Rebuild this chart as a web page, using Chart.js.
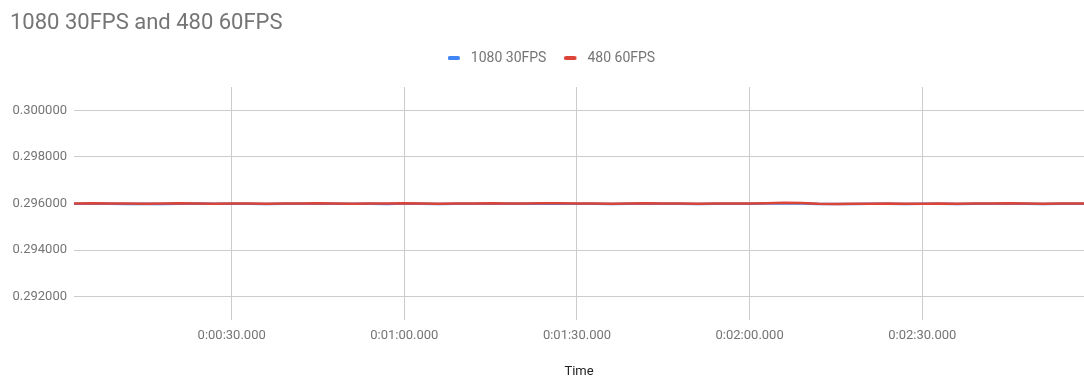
<!DOCTYPE html>
<html>
<head>
<meta charset="utf-8">
<script src="https://cdn.jsdelivr.net/npm/chart.js@4/dist/chart.umd.min.js"></script>
<style>
  html, body { margin: 0; padding: 0; background: #ffffff; }
  #wrap { width: 1084px; height: 381px; }
</style>
</head>
<body>
<div id="wrap"><canvas id="chart" width="1084" height="381"></canvas></div>
<script>
// Elapsed time of each sample, in seconds
const timeSeconds = [
  0, 3, 6, 9, 12, 15, 18, 21, 24, 27,
  30, 33, 36, 39, 42, 45, 48, 51, 54, 57,
  60, 63, 66, 69, 72, 75, 78, 81, 84, 87,
  90, 93, 96, 99, 102, 105, 108, 111, 114, 117,
  120, 123, 126, 129, 132, 135, 138, 141, 144, 147,
  150, 153, 156, 159, 162, 165, 168, 171, 174, 177,
  180
];

const series1080 = [
  0.29599, 0.29599, 0.29600, 0.29599, 0.29598, 0.29599, 0.29598, 0.29599, 0.29600, 0.29599,
  0.29599, 0.29599, 0.29598, 0.29599, 0.29599, 0.29600, 0.29599, 0.29599, 0.29599, 0.29598,
  0.29600, 0.29599, 0.29598, 0.29599, 0.29599, 0.29600, 0.29599, 0.29599, 0.29600, 0.29599,
  0.29599, 0.29599, 0.29598, 0.29599, 0.29600, 0.29599, 0.29599, 0.29598, 0.29599, 0.29599,
  0.29599, 0.29600, 0.29601, 0.29600, 0.29598, 0.29598, 0.29598, 0.29599, 0.29599, 0.29598,
  0.29599, 0.29599, 0.29598, 0.29599, 0.29599, 0.29599, 0.29599, 0.29598, 0.29599, 0.29599,
  0.29599
];

const series480 = [
  0.29600, 0.29600, 0.29601, 0.29600, 0.29600, 0.29599, 0.29600, 0.29601, 0.29600, 0.29599,
  0.29600, 0.29600, 0.29599, 0.29600, 0.29600, 0.29601, 0.29600, 0.29599, 0.29600, 0.29600,
  0.29601, 0.29600, 0.29599, 0.29600, 0.29600, 0.29601, 0.29600, 0.29600, 0.29601, 0.29601,
  0.29600, 0.29600, 0.29599, 0.29600, 0.29601, 0.29600, 0.29600, 0.29599, 0.29600, 0.29600,
  0.29600, 0.29601, 0.29603, 0.29602, 0.29599, 0.29598, 0.29599, 0.29599, 0.29600, 0.29599,
  0.29599, 0.29600, 0.29599, 0.29600, 0.29600, 0.29601, 0.29600, 0.29599, 0.29600, 0.29600,
  0.29600
];

const seriesNames = ['1080 30FPS', '480 60FPS'];
const seriesColors = ['#4285f4', '#db4437'];

const xTickValues = [30, 60, 90, 120, 150];
const xTickLabels = ['0:00:30.000', '0:01:00.000', '0:01:30.000', '0:02:00.000', '0:02:30.000'];
const yTickValues = [0.292, 0.294, 0.296, 0.298, 0.300];
const yTickLabels = ['0.292000', '0.294000', '0.296000', '0.298000', '0.300000'];

const TEXT_GREY = '#757575';
const GRID_GREY = '#cccccc';

// Small rounded bar used as the legend swatch; the canvas is wider than the
// bar so the label sits a little further from it.
function makeSwatch(color) {
  const c = document.createElement('canvas');
  c.width = 16; c.height = 4;
  const g = c.getContext('2d');
  g.fillStyle = color;
  g.beginPath();
  g.roundRect(0, 0, 12, 4, 1.5);
  g.fill();
  return c;
}

function toPoints(values) {
  return timeSeconds.map((t, i) => ({ x: t, y: values[i] }));
}

// Extra room between the legend and the plotting area, and a slight
// nudge of the legend row to the right.
const legendGap = {
  id: 'legendGap',
  beforeInit(chart) {
    const legend = chart.legend;
    if (!legend) return;
    const fit = legend.fit;
    legend.fit = function () {
      fit.call(this);
      this.height += 12;
    };
  },
  afterLayout(chart) {
    if (chart.legend) chart.legend.left += 9;
  }
};

Chart.defaults.font.family = 'Roboto, "Noto Sans", Arial, sans-serif';
Chart.defaults.color = TEXT_GREY;

new Chart(document.getElementById('chart'), {
  type: 'line',
  data: {
    datasets: [
      {
        label: seriesNames[0],
        data: toPoints(series1080),
        borderColor: seriesColors[0],
        backgroundColor: seriesColors[0],
        borderWidth: 2.5,
        pointRadius: 0,
        pointStyle: makeSwatch(seriesColors[0]),
        tension: 0,
        order: 1
      },
      {
        label: seriesNames[1],
        data: toPoints(series480),
        borderColor: seriesColors[1],
        backgroundColor: seriesColors[1],
        borderWidth: 2.5,
        pointRadius: 0,
        pointStyle: makeSwatch(seriesColors[1]),
        tension: 0,
        order: 0
      }
    ]
  },
  options: {
    responsive: false,
    animation: false,
    layout: { padding: { left: 10, right: 0, top: 0, bottom: 0 } },
    plugins: {
      title: {
        display: true,
        text: '1080 30FPS and 480 60FPS',
        align: 'start',
        color: TEXT_GREY,
        font: { size: 22, weight: 'normal', lineHeight: '20px' },
        padding: { top: 13, bottom: 0 }
      },
      legend: {
        display: true,
        position: 'top',
        align: 'center',
        labels: {
          usePointStyle: true,
          pointStyleWidth: 16,
          color: TEXT_GREY,
          font: { size: 14 },
          padding: 18,
          sort: (a, b) => a.datasetIndex - b.datasetIndex
        }
      },
      tooltip: { enabled: false }
    },
    scales: {
      x: {
        type: 'linear',
        min: 2.6,
        max: 178.1,
        afterBuildTicks: (axis) => { axis.ticks = xTickValues.map(v => ({ value: v })); },
        afterFit: (axis) => { axis.height = 61; },
        ticks: {
          color: TEXT_GREY,
          font: { size: 13 },
          padding: 8,
          maxRotation: 0,
          autoSkip: false,
          callback: (value) => xTickLabels[xTickValues.indexOf(value)]
        },
        grid: { color: GRID_GREY, lineWidth: 1, drawTicks: false },
        border: { display: false },
        title: {
          display: true,
          text: 'Time',
          color: '#222222',
          font: { size: 13 },
          padding: { top: 0, bottom: 1 }
        }
      },
      y: {
        type: 'linear',
        min: 0.291,
        max: 0.301,
        afterBuildTicks: (axis) => { axis.ticks = yTickValues.map(v => ({ value: v })); },
        afterFit: (axis) => { axis.width = 64; },
        ticks: {
          color: TEXT_GREY,
          font: { size: 13 },
          padding: 7,
          callback: (value) => {
            const i = yTickValues.findIndex(v => Math.abs(v - value) < 1e-9);
            return i >= 0 ? yTickLabels[i] : '';
          }
        },
        grid: { color: GRID_GREY, lineWidth: 1, drawTicks: false },
        border: { display: false }
      }
    }
  },
  plugins: [legendGap]
});
</script>
</body>
</html>
